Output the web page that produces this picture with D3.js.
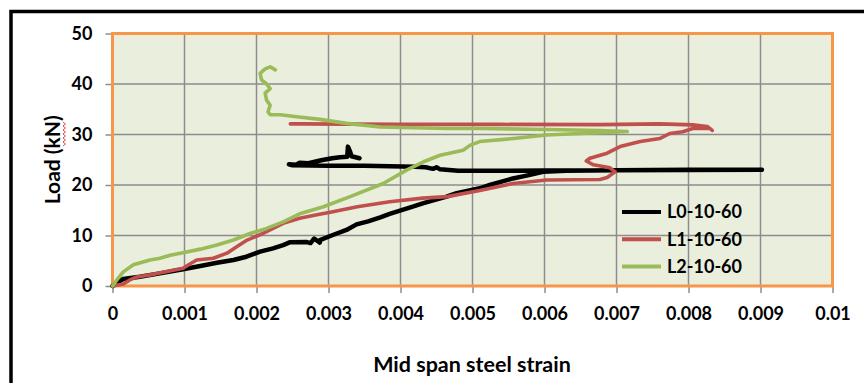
<!DOCTYPE html>
<html>
<head>
<meta charset="utf-8">
<script src="https://cdn.jsdelivr.net/npm/d3@7"></script>
<style>
  html, body { margin: 0; padding: 0; background: #fff; }
  svg { display: block; }
  text { font-family: Lato, "Open Sans", sans-serif; font-weight: 700; fill: #000; }
</style>
</head>
<body>
<svg id="chart" width="864" height="383"></svg>
<script>
// Load vs. mid span steel strain for three beams: [strain, load kN]
const seriesNames = ["L0-10-60", "L1-10-60", "L2-10-60"];
const seriesColors = ["#000000", "#C0504D", "#9BBB59"];

const l0Data = [
  [0, 0], [0.00015, 1.4], [0.00038, 1.85], [0.00066, 2.5], [0.00098, 3.3],
  [0.00122, 3.95], [0.00145, 4.6], [0.00168, 5.15], [0.00186, 5.8], [0.00205, 6.8],
  [0.00223, 7.45], [0.00237, 8.1], [0.00246, 8.65], [0.00270, 8.7], [0.00275, 8.5],
  [0.00280, 9.4], [0.00288, 8.6], [0.00288, 9.1], [0.00306, 10.1], [0.00325, 11.1],
  [0.00339, 12.2], [0.00355, 12.8], [0.00372, 13.6], [0.00385, 14.3], [0.00417, 15.7],
  [0.00432, 16.4], [0.00464, 17.7], [0.00478, 18.4], [0.00510, 19.35], [0.00524, 20.0],
  [0.00556, 21.3], [0.00580, 22.0], [0.00598, 22.6], [0.00630, 22.8], [0.00700, 22.9],
  [0.00800, 23.0], [0.00902, 23.0],
  [0.00800, 22.95], [0.00700, 22.9], [0.00600, 22.85], [0.00500, 22.8], [0.00480, 22.8],
  [0.00455, 23.1], [0.00450, 23.5], [0.00445, 23.2], [0.00435, 23.5], [0.00420, 23.6],
  [0.00350, 23.8], [0.00300, 23.8], [0.00250, 23.9], [0.00245, 24.1], [0.00255, 24.0],
  [0.00260, 24.4], [0.00272, 24.3], [0.00290, 24.9], [0.00305, 25.3], [0.00316, 25.5],
  [0.00326, 25.6], [0.00327, 27.6], [0.00330, 26.6], [0.00332, 25.7], [0.00343, 25.3]
];

const l1Data = [
  [0, 0], [0.00015, 0.4], [0.00024, 1.2], [0.00034, 1.8], [0.00052, 2.2],
  [0.00098, 3.5], [0.00108, 4.4], [0.00117, 5.15], [0.00140, 5.5], [0.00159, 6.5],
  [0.00173, 7.8], [0.00187, 9.1], [0.00209, 10.4], [0.00237, 12.4], [0.00260, 13.4],
  [0.00284, 14.1], [0.00306, 14.7], [0.00340, 15.7], [0.00385, 16.7], [0.00431, 17.4],
  [0.00465, 17.7], [0.00510, 18.9], [0.00556, 20.3], [0.00603, 21.0], [0.00677, 21.1],
  [0.00687, 21.5], [0.00698, 22.6], [0.00691, 23.4], [0.00668, 24.0], [0.00658, 24.75],
  [0.00663, 25.3], [0.00687, 26.3], [0.00705, 27.6], [0.00733, 28.6], [0.00760, 29.2],
  [0.00774, 30.2], [0.00792, 30.55], [0.00806, 31.2], [0.00830, 31.2], [0.00833, 30.8],
  [0.00826, 31.6], [0.00806, 31.9], [0.00760, 32.1], [0.00677, 31.95], [0.00538, 32.0],
  [0.00399, 32.0], [0.00260, 32.1], [0.00247, 32.1]
];

const l2Data = [
  [0, 0], [0.00006, 1.2], [0.00015, 2.8], [0.00029, 4.2], [0.00052, 5.15],
  [0.00066, 5.5], [0.00080, 6.1], [0.00098, 6.6], [0.00122, 7.3], [0.00145, 8.1],
  [0.00168, 9.1], [0.00191, 10.4], [0.00214, 11.4], [0.00237, 12.7], [0.00260, 14.3],
  [0.00293, 15.7], [0.00330, 17.7], [0.00376, 20.3], [0.00409, 23.0], [0.00432, 24.6],
  [0.00455, 25.9], [0.00487, 26.9], [0.00497, 27.9], [0.00510, 28.6], [0.00557, 29.2],
  [0.00603, 29.9], [0.00649, 30.2], [0.00715, 30.6], [0.00677, 30.8], [0.00603, 31.0],
  [0.00510, 31.2], [0.00464, 31.2], [0.00372, 31.5], [0.00325, 32.2], [0.00288, 33.0],
  [0.00256, 33.5], [0.00233, 33.9], [0.00219, 33.9], [0.00216, 34.5], [0.00219, 35.8],
  [0.00214, 36.8], [0.00212, 38.2], [0.00219, 39.1], [0.00214, 40.0], [0.00207, 40.8],
  [0.00205, 42.1], [0.00212, 43.0], [0.00219, 43.4], [0.00226, 42.8]
];

const xTicks = [0, 0.001, 0.002, 0.003, 0.004, 0.005, 0.006, 0.007, 0.008, 0.009, 0.01];
const xTickLabels = ["0", "0.001", "0.002", "0.003", "0.004", "0.005", "0.006", "0.007", "0.008", "0.009", "0.01"];
const yTicks = [0, 10, 20, 30, 40, 50];
const yTickLabels = ["0", "10", "20", "30", "40", "50"];

const xTitle = "Mid span steel strain";
const yTitle = "Load (kN)";

const svg = d3.select("#chart");

const plot = { left: 112.5, right: 832.5, top: 33.5, bottom: 286 };
const x = d3.scaleLinear().domain([0, 0.01]).range([plot.left, plot.right]);
const y = d3.scaleLinear().domain([0, 50]).range([plot.bottom, plot.top]);

// outer frame of the figure
svg.append("rect")
  .attr("x", 11).attr("y", 11.5)
  .attr("width", 900).attr("height", 420)
  .attr("fill", "none").attr("stroke", "#000").attr("stroke-width", 3.5);

// plot area background
svg.append("rect")
  .attr("x", plot.left).attr("y", plot.top)
  .attr("width", plot.right - plot.left).attr("height", plot.bottom - plot.top)
  .attr("fill", "#EAEEDD");

// grid
const grid = svg.append("g").attr("stroke", "#8C8C8C").attr("stroke-width", 1.5);
grid.selectAll("line.v").data(xTicks).join("line")
  .attr("x1", d => x(d)).attr("x2", d => x(d))
  .attr("y1", plot.top).attr("y2", plot.bottom);
grid.selectAll("line.h").data(yTicks).join("line")
  .attr("x1", plot.left).attr("x2", plot.right)
  .attr("y1", d => y(d)).attr("y2", d => y(d));

// axes
const xAxis = d3.axisBottom(x).tickValues(xTicks)
  .tickFormat((d, i) => xTickLabels[i]).tickSize(7).tickPadding(14);
const yAxis = d3.axisLeft(y).tickValues(yTicks)
  .tickFormat((d, i) => yTickLabels[i]).tickSize(7).tickPadding(13);

const gx = svg.append("g").attr("transform", `translate(0,${plot.bottom})`).call(xAxis);
const gy = svg.append("g").attr("transform", `translate(${plot.left},0)`).call(yAxis);
[gx, gy].forEach(g => {
  g.select(".domain").remove();
  g.selectAll(".tick line").attr("stroke", "#8C8C8C").attr("stroke-width", 1.5);
  g.selectAll(".tick text")
    .style("font-family", "Lato, 'Open Sans', sans-serif")
    .style("font-weight", 700).style("font-size", "18px").attr("fill", "#000");
});

// orange plot border
svg.append("rect")
  .attr("x", plot.left).attr("y", plot.top)
  .attr("width", plot.right - plot.left).attr("height", plot.bottom - plot.top)
  .attr("fill", "none").attr("stroke", "#F79646").attr("stroke-width", 3);

// series
const line = d3.line().x(d => x(d[0])).y(d => y(d[1]));
const allData = [l0Data, l1Data, l2Data];
const widths = [4.5, 3.6, 3.6];
allData.forEach((data, i) => {
  svg.append("path")
    .datum(data)
    .attr("d", line)
    .attr("fill", "none")
    .attr("stroke", seriesColors[i])
    .attr("stroke-width", widths[i])
    .attr("stroke-linejoin", "round")
    .attr("stroke-linecap", "round");
});

// legend
const legend = svg.append("g").attr("transform", "translate(622,212)");
seriesNames.forEach((name, i) => {
  const g = legend.append("g").attr("transform", `translate(0,${i * 27.3})`);
  g.append("line").attr("x1", 0).attr("x2", 39).attr("y1", 0).attr("y2", 0)
    .attr("stroke", seriesColors[i]).attr("stroke-width", 4);
  g.append("text").attr("x", 45).attr("y", 0).attr("dy", "0.35em")
    .style("font-size", "18px").text(name);
});

// axis titles
svg.append("text")
  .attr("x", 472)
  .attr("y", 372)
  .attr("text-anchor", "middle")
  .style("font-size", "21.5px")
  .text(xTitle);

const yt = svg.append("g").attr("transform", `translate(60,${(plot.top + plot.bottom) / 2}) rotate(-90)`);
yt.append("text")
  .attr("text-anchor", "middle")
  .style("font-size", "21px")
  .text(yTitle);

// spell-check squiggle under "kN"
const squiggle = d3.range(0, 13).map(k => [k % 2 === 0 ? 63 : 65.5, 122 + k * 2]);
svg.append("path")
  .attr("d", d3.line()(squiggle))
  .attr("fill", "none").attr("stroke", "#E03030").attr("stroke-width", 0.9);
</script>
</body>
</html>
